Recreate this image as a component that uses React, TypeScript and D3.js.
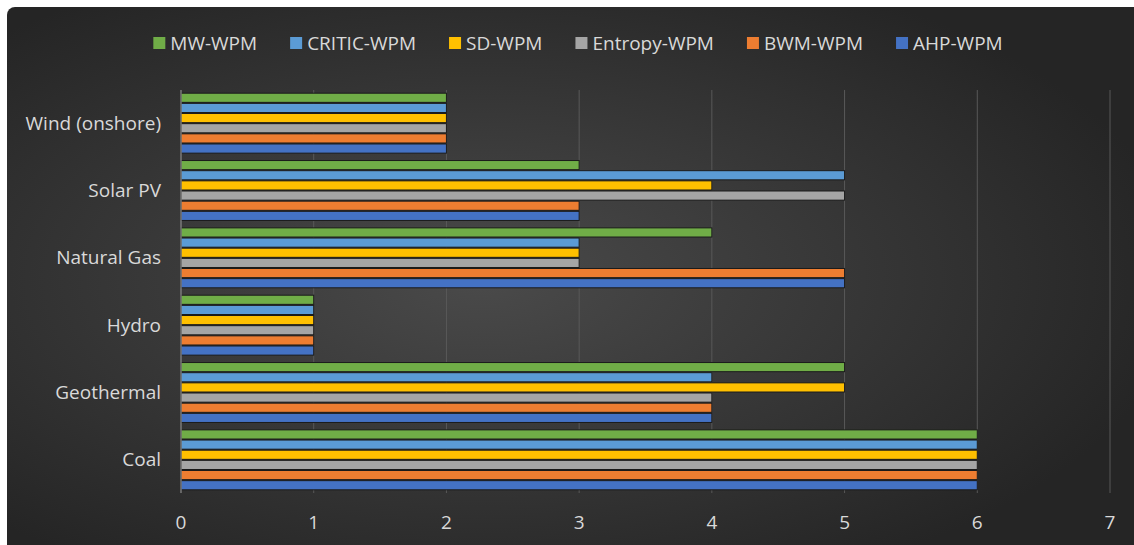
import React, { useEffect, useRef } from 'react';
import * as d3 from 'd3';

const categories = ['Wind (onshore)', 'Solar PV', 'Natural Gas', 'Hydro', 'Geothermal', 'Coal'];
// series listed top to bottom inside each group (same order as legend)
const seriesNames = ['MW-WPM', 'CRITIC-WPM', 'SD-WPM', 'Entropy-WPM', 'BWM-WPM', 'AHP-WPM'];
const seriesColors = ['#70AD47', '#5B9BD5', '#FFC000', '#A5A5A5', '#ED7D31', '#4472C4'];
const mwWpm = [2, 3, 4, 1, 5, 6];
const criticWpm = [2, 5, 3, 1, 4, 6];
const sdWpm = [2, 4, 3, 1, 5, 6];
const entropyWpm = [2, 5, 3, 1, 4, 6];
const bwmWpm = [2, 3, 5, 1, 4, 6];
const ahpWpm = [2, 3, 5, 1, 4, 6];
const seriesValues = [mwWpm, criticWpm, sdWpm, entropyWpm, bwmWpm, ahpWpm];
const xTicks = [0, 1, 2, 3, 4, 5, 6, 7];

const FONT = '"Open Sans", sans-serif';
const FS = 19;

export default function App() {
  const ref = useRef<SVGSVGElement | null>(null);

  useEffect(() => {
    document.body.style.margin = '0';
    const W = 1134, H = 545;
    const svg = d3.select(ref.current);
    svg.selectAll('*').remove();

    const defs = svg.append('defs');
    const rg = defs.append('radialGradient').attr('id', 'bg')
      .attr('cx', '0.42').attr('cy', '0.5').attr('r', '0.62');
    rg.append('stop').attr('offset', '0%').attr('stop-color', '#4a4a4a');
    rg.append('stop').attr('offset', '100%').attr('stop-color', '#252525');

    svg.append('rect').attr('x', 7).attr('y', 7).attr('width', W).attr('height', H)
      .attr('rx', 8).attr('fill', 'url(#bg)');

    const margin = { top: 90, bottom: 52, left: 181, right: 24 };
    const x = d3.scaleLinear().domain([0, 7]).range([margin.left, W - margin.right]);
    const y = d3.scaleBand().domain(categories).range([margin.top, H - margin.bottom])
      .paddingInner(0.095).paddingOuter(0.04);
    const inner = d3.scaleBand().domain(seriesNames).range([0, y.bandwidth()]);

    // gridlines
    svg.append('g').selectAll('line').data(xTicks.slice(1)).enter().append('line')
      .attr('x1', d => x(d)).attr('x2', d => x(d))
      .attr('y1', margin.top).attr('y2', H - margin.bottom)
      .attr('stroke', '#595959').attr('stroke-width', 1);

    // bars
    const rows = categories.map((c, ci) => ({ c, ci }));
    const groups = svg.append('g').selectAll('g').data(rows).enter().append('g')
      .attr('transform', d => `translate(0,${y(d.c)})`);
    groups.selectAll('rect')
      .data(d => seriesNames.map((s, si) => ({ s, color: seriesColors[si], v: seriesValues[si][d.ci] })))
      .enter().append('rect')
      .attr('x', x(0))
      .attr('y', d => inner(d.s)! + 0.5)
      .attr('width', d => x(d.v) - x(0))
      .attr('height', inner.bandwidth() - 1)
      .attr('fill', d => d.color)
      .attr('stroke', '#1b1b1b').attr('stroke-width', 1);

    // left axis line
    svg.append('line').attr('x1', x(0)).attr('x2', x(0))
      .attr('y1', margin.top).attr('y2', H - margin.bottom)
      .attr('stroke', '#8c8c8c').attr('stroke-width', 1.2);

    // category labels
    svg.append('g').selectAll('text').data(categories).enter().append('text')
      .attr('x', 161).attr('y', d => y(d)! + y.bandwidth() / 2)
      .attr('dy', '0.35em').attr('text-anchor', 'end')
      .attr('fill', '#d9d9d9').attr('font-family', FONT).attr('font-size', FS)
      .text(d => d);

    // x tick labels
    svg.append('g').selectAll('text').data(xTicks).enter().append('text')
      .attr('x', d => x(d)).attr('y', 522).attr('dy', '0.35em')
      .attr('text-anchor', 'middle')
      .attr('fill', '#d9d9d9').attr('font-family', FONT).attr('font-size', FS)
      .text(d => d);

    // legend
    const legend = svg.append('g');
    const items = legend.selectAll('g').data(seriesNames).enter().append('g');
    items.append('rect').attr('width', 12).attr('height', 12).attr('y', -6)
      .attr('fill', (d, i) => seriesColors[i]);
    items.append('text').attr('x', 17).attr('dy', '0.35em')
      .attr('fill', '#d9d9d9').attr('font-family', FONT).attr('font-size', FS)
      .text(d => d);
    const gap = 33;
    let cx = 0;
    const offsets: number[] = [];
    items.each(function () {
      const t = d3.select(this).select('text').node() as SVGTextElement;
      offsets.push(cx);
      cx += 17 + t.getComputedTextLength() + gap;
    });
    const total = cx - gap;
    const start = 578 - total / 2;
    items.attr('transform', (d, i) => `translate(${start + offsets[i]},43)`);
  }, []);

  return <svg ref={ref} width={1134} height={545} style={{ display: 'block' }} />;
}
